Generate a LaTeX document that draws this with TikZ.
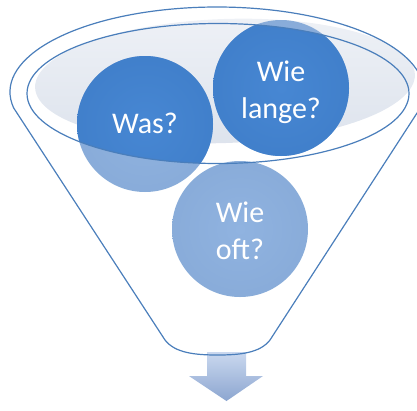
\documentclass[tikz,border=0pt]{standalone}
\usepackage{fontspec}
\setmainfont{Carlito}
\definecolor{lineblue}{HTML}{4A7EBB}
\definecolor{dkA}{HTML}{4787D3}
\definecolor{dkB}{HTML}{3D7BC6}
\definecolor{dkC}{HTML}{2D5F9F}
\definecolor{ltA}{HTML}{90B3E0}
\definecolor{ltB}{HTML}{84A7D5}
\definecolor{ltC}{HTML}{6E91C0}
\definecolor{fillA}{HTML}{EEF1F6}
\definecolor{fillB}{HTML}{DDE3ED}
\definecolor{arrA}{HTML}{CAD8EF}
\definecolor{arrB}{HTML}{8CA6D0}
\pgfdeclareradialshading{darkball}{\pgfpoint{0bp}{0bp}}{color(0bp)=(dkA); color(40bp)=(dkB); color(47bp)=(dkC); color(50bp)=(dkC)}
\pgfdeclareradialshading{lightball}{\pgfpoint{0bp}{0bp}}{color(0bp)=(ltA); color(41bp)=(ltB); color(48bp)=(ltC); color(50bp)=(ltC)}
\begin{document}
\begin{tikzpicture}[x=1pt,y=-1pt,
  bubble/.style={circle, minimum size=136pt, inner sep=0pt, shade, shading=lightball},
  qtext/.style={text=white, align=center, inner sep=0pt, font=\fontsize{30}{37}\selectfont},
  outline/.style={draw=lineblue, line width=1.2pt}]
\useasboundingbox (0,0) rectangle (417,410);
% light fill inside the funnel mouth
\begin{scope}[shift={(225,81)}, rotate=2]
  \shade[top color=fillA, bottom color=fillB] (0,0) ellipse (190pt and 62pt);
\end{scope}
% block arrow below the funnel
\shade[top color=arrA, bottom color=arrB]
  (207,352) -- (246,352) -- (246,376) -- (263,376) -- (226.5,401) -- (189,376) -- (207,376) -- cycle;
% bubbles
\node[bubble] (was) at (145,124) {};
\node[bubble] (lange) at (281,88) {};
\node[bubble] (oft) at (240,229) {};
\begin{scope}
  \clip (218,93.5) ellipse (191pt and 70pt);
  \shade[shading=darkball] (was.center) circle (68pt);
  \shade[shading=darkball] (lange.center) circle (68pt);
\end{scope}
\node[qtext] (wastext) at (145,123.5) {Was?};
\node[qtext] (langetext) at (281,92) {Wie\\lange?};
\node[qtext] (ofttext) at (240,231) {Wie\\oft?};
% outlines
\draw[outline] (218,93.5) ellipse (191pt and 70pt);
\draw[outline] (13.7,108) arc[start angle=190.85, end angle=-10.85, x radius=207pt, y radius=85pt]
  -- (270,340) .. controls (260,353) and (240,355) .. (217.5,355)
  .. controls (195,355) and (175,353) .. (165,340) -- cycle;
\end{tikzpicture}
\end{document}
